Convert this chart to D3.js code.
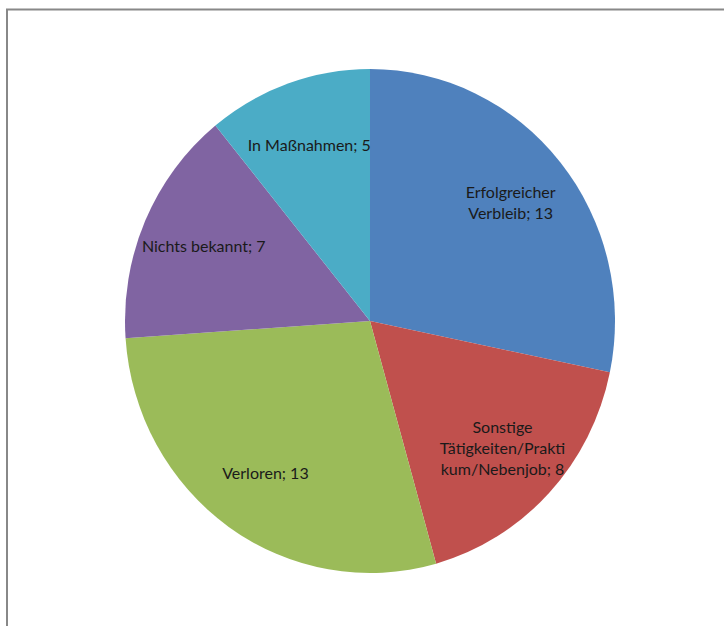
<!DOCTYPE html>
<html>
<head>
<meta charset="utf-8">
<script src="https://cdn.jsdelivr.net/npm/d3@7"></script>
<style>
  body { margin: 0; background: #fff; }
  text { font-family: Lato, "Open Sans", sans-serif; }
</style>
</head>
<body>
<div id="content"></div>
<script>
// Data set.
var categories = ["Erfolgreicher Verbleib", "Sonstige Tätigkeiten/Praktikum/Nebenjob",
                  "Verloren", "Nichts bekannt", "In Maßnahmen"];
var values = [13, 8, 13, 7, 5];
var colors = ["#4F81BD", "#C0504D", "#9BBB59", "#8064A2", "#4BACC6"];

// SVG Dimensions.
var width = 724, height = 626;
var cx = 370, cy = 321;
var rx = 245, ry = 252;

var svg = d3.select('#content')
              .append('svg')
              .attr('width', width)
              .attr('height', height);

// Chart area frame (right and bottom edges run off the page).
svg.append('rect')
    .attr('x', 7).attr('y', 9.5)
    .attr('width', 760).attr('height', 660)
    .attr('fill', 'none')
    .attr('stroke', '#888')
    .attr('stroke-width', 2);

var data = categories.map(function(c, i) {
  return {name : c, value : values[i], color : colors[i]};
});

var pie = d3.pie().sort(null).value(function(d) { return d.value; });
var arcs = pie(data);

var arc = d3.arc().innerRadius(0).outerRadius(ry);

// Pie is slightly squashed horizontally, like the original.
var g = svg.append('g')
    .attr('transform', 'translate(' + cx + ',' + cy + ') scale(' + (rx / ry) + ',1)');

g.selectAll('path')
    .data(arcs)
    .enter().append('path')
    .attr('d', arc)
    .attr('fill', function(d) { return d.data.color; });

// Labels
var labelArc = d3.arc().innerRadius(ry * 0.74).outerRadius(ry * 0.74);
var fontSize = 16, lineH = 21, maxW = 130;

var lg = svg.append('g').attr('transform', 'translate(' + cx + ',' + cy + ')');

// Wrap by words; a word that is too wide is split by characters.
function wrap(str, measure) {
  var words = str.split(' '), lines = [], cur = '';
  words.forEach(function(w) {
    var test = cur ? cur + ' ' + w : w;
    if (measure(test) <= maxW) { cur = test; return; }
    if (cur) { lines.push(cur); cur = ''; }
    while (measure(w) > maxW) {
      var k = w.length;
      while (k > 1 && measure(w.slice(0, k)) > maxW) k--;
      lines.push(w.slice(0, k));
      w = w.slice(k);
    }
    cur = w;
  });
  if (cur) lines.push(cur);
  return lines;
}

var probe = lg.append('text').attr('font-size', fontSize);
function measure(s) { probe.text(s); return probe.node().getComputedTextLength(); }

arcs.forEach(function(d) {
  var c = labelArc.centroid(d);
  var x = c[0] * rx / ry, y = c[1];
  var lines = wrap(d.data.name + '; ' + d.data.value, measure);
  var t = lg.append('text')
      .attr('text-anchor', 'middle')
      .attr('font-size', fontSize)
      .attr('fill', '#1a1a1a');
  lines.forEach(function(l, i) {
    t.append('tspan')
        .attr('x', x)
        .attr('y', y + (i - (lines.length - 1) / 2) * lineH)
        .attr('dy', '0.35em')
        .text(l);
  });
});
probe.remove();
</script>
</body>
</html>
